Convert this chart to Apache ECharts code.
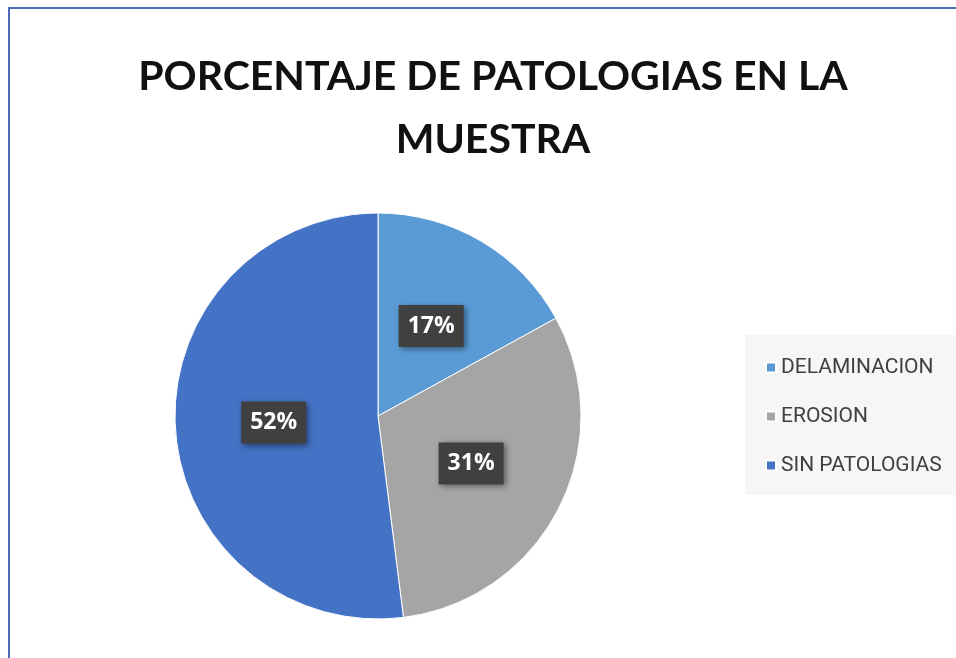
<!DOCTYPE html>
<html>
<head>
<meta charset="utf-8">
<script src="https://cdn.jsdelivr.net/npm/echarts@6/dist/echarts.min.js"></script>
<style>
  html, body { margin: 0; padding: 0; background: #fff; }
  #chart { width: 956px; height: 658px; }
</style>
</head>
<body>
<div id="chart"></div>
<script>
const categories = ['DELAMINACION', 'EROSION', 'SIN PATOLOGIAS']
const percents = [17, 31, 52]
const colors = ['#5b9bd5', '#a5a5a5', '#4472c4']

const chartDom = document.getElementById('chart')
const myChart = echarts.init(chartDom)

const option = {
  backgroundColor: '#ffffff',
  color: colors,
  title: {
    text: 'PORCENTAJE DE PATOLOGIAS EN LA\nMUESTRA',
    left: 488,
    top: 40,
    textAlign: 'center',
    textStyle: {
      fontFamily: 'Lato',
      fontWeight: 'bold',
      fontSize: 41,
      lineHeight: 63,
      color: '#111111'
    }
  },
  graphic: [
    {
      type: 'rect',
      shape: { x: 745, y: 335, width: 215, height: 160 },
      style: { fill: '#f6f6f6' },
      z: 0
    },
    {
      type: 'rect',
      shape: { x: 9, y: 8, width: 970, height: 680 },
      style: { fill: 'none', stroke: '#4a6bb5', lineWidth: 2 },
      z: 10
    }
  ],
  legend: {
    orient: 'vertical',
    left: 760,
    top: 352,
    itemWidth: 10,
    itemHeight: 10,
    itemGap: 28,
    icon: 'rect',
    textStyle: {
      fontFamily: 'Roboto',
      fontSize: 21,
      color: '#404040'
    },
    data: categories
  },
  series: [
    {
      type: 'pie',
      center: [378, 416],
      radius: 203,
      startAngle: 90,
      clockwise: true,
      silent: true,
      itemStyle: {
        borderColor: '#ffffff',
        borderWidth: 1
      },
      label: {
        show: true,
        position: 'inside',
        formatter: '{c}%',
        fontFamily: 'Open Sans',
        fontWeight: 'bold',
        fontSize: 23,
        color: '#ffffff',
        backgroundColor: '#404040',
        padding: [10, 9, 9, 9],
        shadowColor: 'rgba(0,0,0,0.45)',
        shadowBlur: 6,
        shadowOffsetX: 2,
        shadowOffsetY: 2
      },
      labelLine: { show: false },
      data: categories.map((name, i) => ({ name, value: percents[i] }))
    }
  ]
}
option && myChart.setOption(option)
</script>
</body>
</html>
